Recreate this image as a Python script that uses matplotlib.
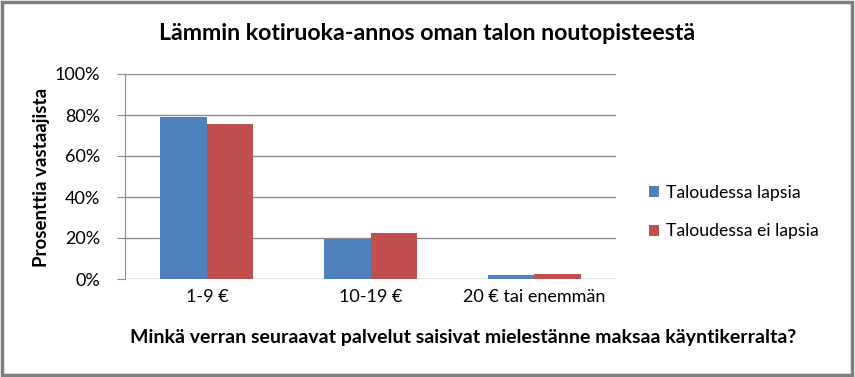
import numpy as np
import matplotlib
matplotlib.use('Agg')
import matplotlib.pyplot as plt
from matplotlib.patches import Rectangle

categories = ['1-9 €', '10-19 €', '20 € tai enemmän']
with_kids = [0.79, 0.194, 0.018]
no_kids = [0.757, 0.223, 0.023]
series_names = ['Taloudessa lapsia', 'Taloudessa ei lapsia']
yticks = [0, 0.2, 0.4, 0.6, 0.8, 1.0]

plt.rcParams['font.family'] = ['Lato', 'DejaVu Sans']

fig = plt.figure(figsize=(8.55, 3.77), dpi=100)
ax = fig.add_axes([125/855, 98/377, 491/855, 205/377])

x = np.arange(len(categories))
w = 0.284
ax.bar(x - w/2, with_kids, w, color='#4F81BD', label=series_names[0])
ax.bar(x + w/2, no_kids, w, color='#C0504D', label=series_names[1])

ax.set_xlim(-0.5, len(categories) - 0.5)
ax.set_ylim(0, 1)
ax.set_yticks(yticks)
ax.set_yticklabels(['{:.0f}%'.format(v*100) for v in yticks], fontsize=13)
ax.set_xticks(x)
ax.set_xticklabels(categories, fontsize=13)
ax.yaxis.grid(True, color='#8C8C8C', linewidth=1)
ax.set_axisbelow(True)
for s in ['top', 'right', 'bottom']:
    ax.spines[s].set_visible(False)
ax.spines['left'].set_color('#8C8C8C')
ax.tick_params(axis='x', length=0, pad=7)
ax.tick_params(axis='y', length=6, color='#8C8C8C', pad=12)

fig.text(42/855, 1 - 177/377, 'Prosenttia vastaajista', rotation=90,
         ha='center', va='center', fontsize=13.5, fontweight='bold')
fig.text(463/855, 1 - 338/377, 'Minkä verran seuraavat palvelut saisivat mielestänne maksaa käyntikerralta?',
         ha='center', va='center', fontsize=14, fontweight='bold')
fig.text(427/855, 1 - 34/377, 'Lämmin kotiruoka-annos oman talon noutopisteestä',
         ha='center', va='center', fontsize=16.7, fontweight='bold')

ax.legend(loc='center left', bbox_to_anchor=(633/855, 1 - 212/377), bbox_transform=fig.transFigure,
          frameon=False, fontsize=12.7, handlelength=0.6, handleheight=0.6,
          handletextpad=0.35, labelspacing=1.3)

fig.patches.append(Rectangle((0.002, 0.004), 0.994, 0.992, transform=fig.transFigure,
                             fill=False, edgecolor='#7F7F7F', linewidth=2.5))

fig.savefig('out.png', dpi=100)
